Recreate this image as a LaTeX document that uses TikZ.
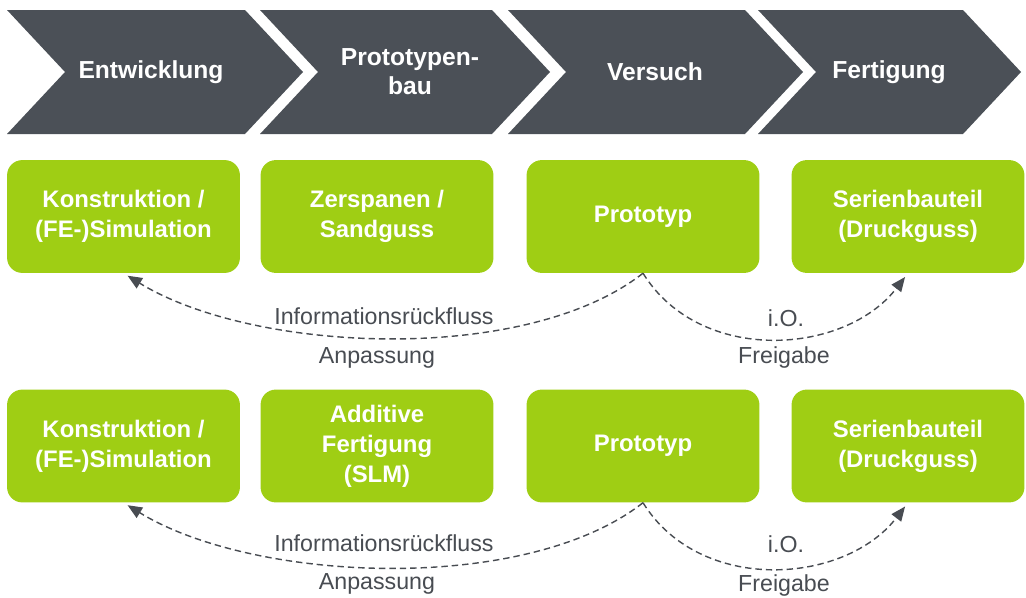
\documentclass[tikz,border=0pt]{standalone}
\usepackage{fontspec}
\setmainfont{Liberation Sans}
\usetikzlibrary{arrows.meta}
\definecolor{chevgray}{RGB}{75,80,87}
\definecolor{limegreen}{RGB}{159,206,20}
\definecolor{linegray}{RGB}{72,76,82}
\tikzset{
  chev/.style={fill=chevgray},
  chevtxt/.style={text=white, font=\fontsize{17.5}{20.5}\selectfont\bfseries, align=center},
  gbox/.style={fill=limegreen, rounded corners=3.8mm, minimum width=5.82cm, minimum height=2.82cm, text=white, font=\fontsize{17}{21.3}\selectfont\bfseries, align=center},
  lbl/.style={text=linegray, font=\fontsize{16.5}{20}\selectfont},
  darr/.style={-{Triangle[length=3.6mm,width=3mm]}, dash pattern=on 1.6mm off 1mm, line width=1pt, draw=linegray, shorten >=1.2mm},
}
\begin{document}
\begin{tikzpicture}[x=0.025cm,y=-0.025cm]
\useasboundingbox (0,0) rectangle (1026,598);
\newcommand{\chev}[5]{\fill[chev] (#1,10) -- ++(#2,0) -- ++(58,62) -- ++(-58,62) -- ++(-#2,0) -- ++(58,-62) -- cycle; \node[chevtxt] (#3) at (#4,72) {#5};}
\chev{7}{238}{entw}{151}{Entwicklung}
\chev{260}{232}{pbau}{410}{Prototypen-\\bau}
\chev{508}{237}{vers}{655}{Versuch}
\chev{758}{205}{fert}{889}{Fertigung}
\node[gbox] (konst1) at (123.5,216.5) {Konstruktion /\\(FE-)Simulation};
\node[gbox] (zersp) at (377,216.5) {Zerspanen /\\Sandguss};
\node[gbox] (proto1) at (643,216.5) {Prototyp};
\node[gbox] (serie1) at (908,216.5) {Serienbauteil\\(Druckguss)};
\node[gbox] (konst2) at (123.5,446) {Konstruktion /\\(FE-)Simulation};
\node[gbox] (addit) at (377,446) {Additive\\Fertigung\\(SLM)};
\node[gbox] (proto2) at (643,446) {Prototyp};
\node[gbox] (serie2) at (908,446) {Serienbauteil\\(Druckguss)};
\draw[darr] (proto1.south) .. controls +(-117,92) and +(130,80) .. (konst1.south);
\draw[darr] (proto1.south) .. controls +(57,92) and +(-63,82) .. (serie1.south);
\draw[darr] (proto2.south) .. controls +(-117,92) and +(130,80) .. (konst2.south);
\draw[darr] (proto2.south) .. controls +(57,92) and +(-63,82) .. (serie2.south);
\node[lbl] (info1) at (384,316) {Informationsrückfluss};
\node[lbl] (anp1) at (377,358) {Anpassung};
\node[lbl] (io1) at (786,318) {i.O.};
\node[lbl] (frei1) at (784,357) {Freigabe};
\node[lbl] (info2) at (384,543) {Informationsrückfluss};
\node[lbl] (anp2) at (377,584) {Anpassung};
\node[lbl] (io2) at (786,544) {i.O.};
\node[lbl] (frei2) at (784,585) {Freigabe};
\end{tikzpicture}
\end{document}
